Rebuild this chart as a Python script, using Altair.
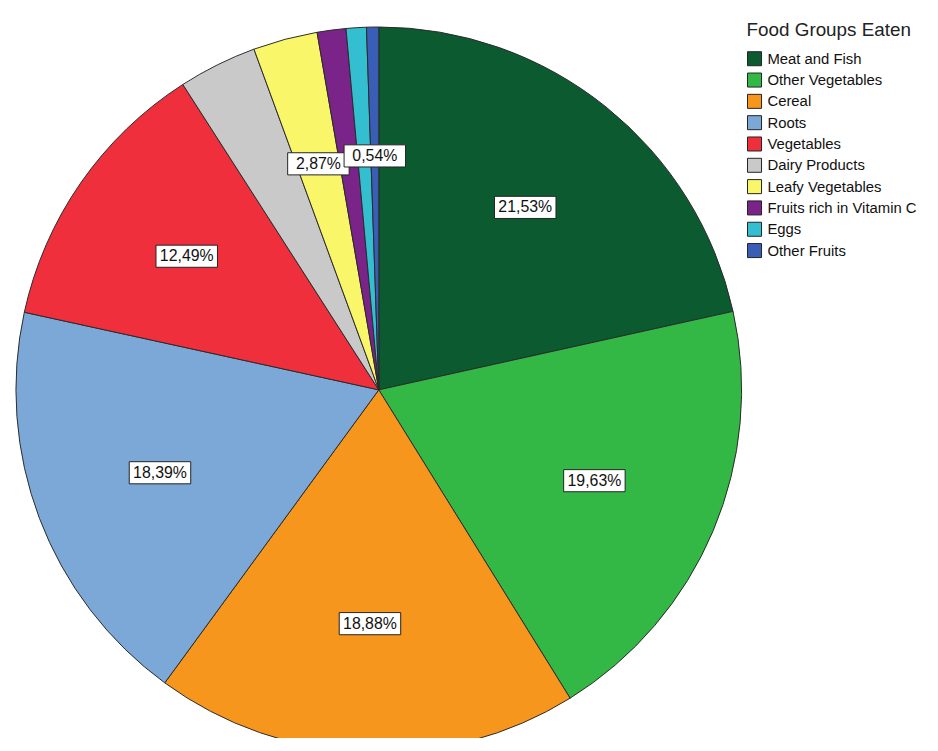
import altair as alt
import pandas as pd

categories = ["Meat and Fish", "Other Vegetables", "Cereal", "Roots", "Vegetables",
              "Dairy Products", "Leafy Vegetables", "Fruits rich in Vitamin C",
              "Eggs", "Other Fruits"]
values = [21.53, 19.63, 18.88, 18.39, 12.49, 3.49, 2.87, 1.28, 0.90, 0.54]
labels = ["21,53%", "19,63%", "18,88%", "18,39%", "12,49%", "", "2,87%", "", "", "0,54%"]
colors = ["#0b5a30", "#33b846", "#f7961c", "#7ba8d7", "#ef2f3c",
          "#c9c9c9", "#f9f66a", "#7a2388", "#34bfd0", "#3a5db6"]

df = pd.DataFrame({"cat": categories, "value": values, "label": labels,
                   "idx": list(range(len(categories)))})

CX, CY, R, LR = 374, 382, 366, 236

base = alt.Chart(df)

pie = base.mark_arc(outerRadius=R, stroke="#2a2a2a", strokeWidth=1).encode(
    theta=alt.Theta("value:Q", stack=True),
    order=alt.Order("idx:Q", sort="ascending"),
    color=alt.Color("cat:N", sort=categories,
                    scale=alt.Scale(domain=categories, range=colors),
                    legend=alt.Legend(title="Food Groups Eaten", orient="none",
                                      legendX=745, legendY=10, padding=0,
                                      titleFontSize=19, titleFontWeight="normal",
                                      titleColor="#222", titleFont="Liberation Sans",
                                      titlePadding=11,
                                      labelFont="Liberation Sans", labelFontSize=15,
                                      labelColor="#111", symbolType="square",
                                      symbolSize=200, symbolStrokeColor="#222",
                                      symbolStrokeWidth=1, symbolOpacity=1,
                                      rowPadding=1.5, labelOffset=5, labelLimit=300)),
    x=alt.value(CX), y=alt.value(CY),
)

pos = base.transform_window(
    cum="sum(value)", sort=[alt.SortField("idx", order="ascending")], frame=[None, 0]
).transform_joinaggregate(total="sum(value)").transform_calculate(
    ang="(datum.cum - datum.value/2) / datum.total * 2 * PI"
).transform_calculate(
    px=f"{CX} + {LR} * sin(datum.ang)", py=f"{CY} - {LR} * cos(datum.ang)"
).transform_filter("datum.label != ''")

boxes = pos.mark_point(shape="M-1,-0.36H1V0.36H-1Z", size=3844, filled=True,
                       fill="white", stroke="#222", strokeWidth=1, opacity=1).encode(
    x=alt.X("px:Q", scale=None), y=alt.Y("py:Q", scale=None)
)

texts = pos.mark_text(font="Liberation Sans", fontSize=16, color="#111").encode(
    x=alt.X("px:Q", scale=None), y=alt.Y("py:Q", scale=None), text="label:N"
)

chart = alt.layer(pie, boxes, texts).properties(
    width=930, height=730, padding=0,
    autosize=alt.AutoSizeParams(type="none")
).configure_view(stroke=None)

chart.save("out.html", embed_options={"renderer": "svg", "actions": False})
